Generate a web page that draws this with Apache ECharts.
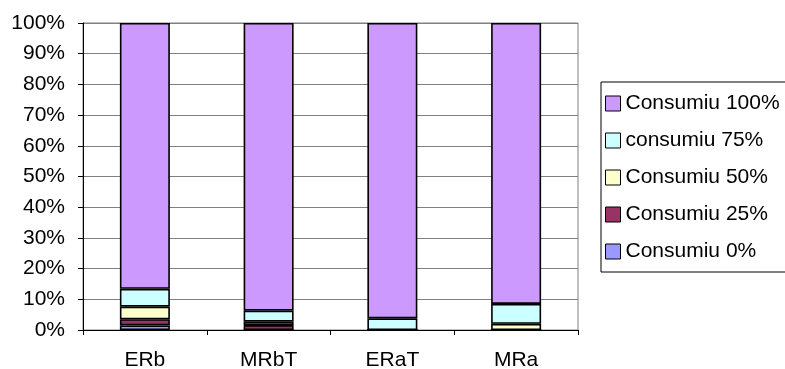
<!DOCTYPE html>
<html>
<head>
<meta charset="utf-8">
<script src="https://cdn.jsdelivr.net/npm/echarts@6/dist/echarts.min.js"></script>
<style>
  html, body { margin: 0; padding: 0; background: #ffffff; }
  #chart { width: 785px; height: 369px; }
</style>
</head>
<body>
<div id="chart"></div>
<script>
// Share of each consumption level per scenario (percent of total)
const categories = ['ERb', 'MRbT', 'ERaT', 'MRa'];
const consumiu0   = [1.5, 0,   0,   0];
const consumiu25  = [2.0, 1.6, 0,   0];
const consumiu50  = [4.1, 1.1, 0,   2.0];
const consumiu75  = [5.8, 3.6, 3.8, 6.5];
const consumiu100 = [86.6, 93.7, 96.2, 91.5];
const yTicks = [0, 10, 20, 30, 40, 50, 60, 70, 80, 90, 100];

const seriesNames = ['Consumiu 0%', 'Consumiu 25%', 'Consumiu 50%', 'consumiu 75%', 'Consumiu 100%'];
const seriesData = [consumiu0, consumiu25, consumiu50, consumiu75, consumiu100];
const seriesColors = ['#9999FF', '#993366', '#FFFFCC', '#CCFFFF', '#CC99FF'];

const font = '"Liberation Sans", Arial, sans-serif';

const chart = echarts.init(document.getElementById('chart'), null, { renderer: 'canvas' });

chart.setOption({
  animation: false,
  backgroundColor: '#ffffff',
  grid: {
    left: 83, right: 207, top: 23, bottom: 39,
    outerBoundsMode: 'none',
    show: true, borderColor: '#808080', borderWidth: 1
  },
  legend: {
    orient: 'vertical',
    left: 601, top: 82,
    padding: [11, 6, 10, 4],
    backgroundColor: '#ffffff',
    borderColor: '#000000',
    borderWidth: 1,
    borderRadius: 0,
    icon: 'rect',
    itemWidth: 15, itemHeight: 15,
    itemGap: 16,
    itemStyle: { borderColor: '#000000', borderWidth: 1 },
    textStyle: { fontFamily: font, fontSize: 21, color: '#000000', lineHeight: 21 },
    data: seriesNames.slice().reverse()
  },
  xAxis: {
    type: 'category',
    data: categories,
    axisLine: { lineStyle: { color: '#000000', width: 1 } },
    axisTick: { show: true, alignWithLabel: false, length: 5, lineStyle: { color: '#000000' } },
    axisLabel: { fontFamily: font, fontSize: 21, color: '#000000', margin: 20 },
    splitLine: { show: false }
  },
  yAxis: {
    type: 'value',
    min: yTicks[0], max: yTicks[yTicks.length - 1], interval: 10,
    axisLine: { show: true, lineStyle: { color: '#000000', width: 1 } },
    axisTick: { show: true, length: 5, lineStyle: { color: '#000000' } },
    axisLabel: { fontFamily: font, fontSize: 21, color: '#000000', margin: 18,
                 formatter: v => v + '%' },
    splitLine: { show: true, lineStyle: { color: '#808080', width: 1 } }
  },
  series: seriesNames.map((name, i) => ({
    name: name,
    type: 'bar',
    stack: 'total',
    barWidth: 50,
    data: seriesData[i],
    itemStyle: { color: seriesColors[i], borderColor: '#000000', borderWidth: 1.6 },
    emphasis: { disabled: true }
  }))
});
</script>
</body>
</html>
